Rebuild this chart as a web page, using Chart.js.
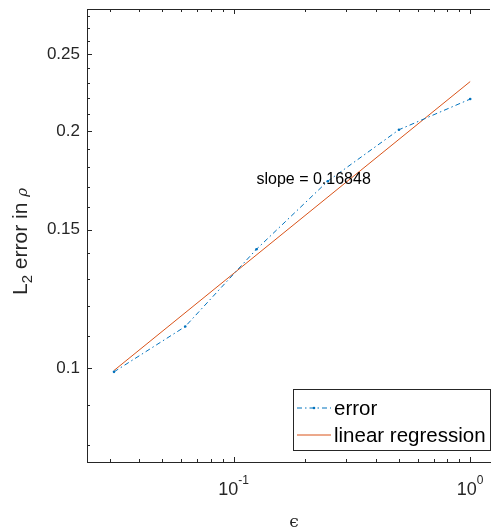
<!DOCTYPE html>
<html>
<head>
<meta charset="utf-8">
<script src="https://cdn.jsdelivr.net/npm/chart.js@4"></script>
<style>
  html, body { margin: 0; padding: 0; background: #fff; }
  #wrap { width: 494px; height: 529px; }
</style>
</head>
<body>
<div id="wrap"><canvas id="myChart" width="494" height="529"></canvas></div>
<script>
// values
const epsilon = [1/32, 1/16, 1/8, 1/4, 1/2, 1];
const errorL2 = [0.0990, 0.1130, 0.1416, 0.1727, 0.2007, 0.2195];
const regEps = [1/32, 1];
const regL2 = [0.0994, 0.2310];
const yTickVals = [0.1, 0.15, 0.2, 0.25];
const yTickLabels = ['0.1', '0.15', '0.2', '0.25'];
const yMinor = [0.08, 0.09, 0.11, 0.12, 0.13, 0.14, 0.16, 0.17, 0.18, 0.19, 0.21, 0.22, 0.23, 0.24, 0.26, 0.27, 0.28];
const xTickVals = [0.1, 1];
const xTickExp = ['-1', '0'];
const xMinor = [0.03, 0.04, 0.05, 0.06, 0.07, 0.08, 0.09, 0.2, 0.3, 0.4, 0.5, 0.6, 0.7, 0.8, 0.9];
const slopeText = 'slope = 0.16848';
const slopeAt = { x: 0.125, y: 0.1734 };

const axisColor = '#262626';
const sans = "'Liberation Sans', Arial, sans-serif";

const decor = {
    id: 'decor',
    afterDraw(chart) {
        const ctx = chart.ctx;
        const a = chart.chartArea;
        const xs = chart.scales.x, ys = chart.scales.y;
        ctx.save();
        ctx.strokeStyle = axisColor;
        ctx.lineWidth = 1;
        // top border
        ctx.beginPath();
        ctx.moveTo(a.left, Math.round(a.top) + 0.5);
        ctx.lineTo(a.right, Math.round(a.top) + 0.5);
        ctx.stroke();
        // ticks pointing inwards
        function xTick(v, len) {
            let px = Math.round(xs.getPixelForValue(v)) + 0.5;
            ctx.beginPath();
            ctx.moveTo(px, a.bottom); ctx.lineTo(px, a.bottom - len);
            ctx.moveTo(px, a.top); ctx.lineTo(px, a.top + len);
            ctx.stroke();
        }
        function yTick(v, len) {
            let py = Math.round(ys.getPixelForValue(v)) + 0.5;
            ctx.beginPath();
            ctx.moveTo(a.left, py); ctx.lineTo(a.left + len, py);
            ctx.stroke();
        }
        xMinor.forEach(v => xTick(v, 3));
        xTickVals.forEach(v => xTick(v, 5));
        yMinor.forEach(v => yTick(v, 3));
        yTickVals.forEach(v => yTick(v, 5));

        // y tick labels
        ctx.fillStyle = axisColor;
        ctx.font = '17px ' + sans;
        ctx.textAlign = 'right';
        ctx.textBaseline = 'middle';
        yTickVals.forEach((v, i) => {
            ctx.fillText(yTickLabels[i], a.left - 7, ys.getPixelForValue(v));
        });

        // x tick labels 10^n
        xTickVals.forEach((v, i) => {
            ctx.font = '18px ' + sans;
            let wBase = ctx.measureText('10').width;
            ctx.font = '12px ' + sans;
            let wExp = ctx.measureText(xTickExp[i]).width;
            let cx = xs.getPixelForValue(v);
            let x0 = cx - (wBase + wExp) / 2;
            ctx.textAlign = 'left';
            ctx.textBaseline = 'alphabetic';
            ctx.font = '18px ' + sans;
            ctx.fillText('10', x0, 495);
            ctx.font = '12px ' + sans;
            ctx.fillText(xTickExp[i], x0 + wBase, 484);
        });

        // x axis title
        ctx.font = "17px 'DejaVu Serif', serif";
        ctx.textAlign = 'center';
        ctx.textBaseline = 'alphabetic';
        ctx.fillText('\u03F5', 294, 527);

        // y axis title, rotated
        ctx.save();
        ctx.translate(27, 295);
        ctx.rotate(-Math.PI / 2);
        ctx.textAlign = 'left';
        ctx.textBaseline = 'alphabetic';
        let x = 0;
        ctx.font = '21px ' + sans;
        ctx.fillText('L', x, 0); x += ctx.measureText('L').width;
        ctx.font = '15px ' + sans;
        ctx.fillText('2', x, 5); x += ctx.measureText('2').width;
        ctx.font = '21px ' + sans;
        ctx.fillText(' error in ', x, 0); x += ctx.measureText(' error in ').width;
        ctx.font = "italic 15px 'DejaVu Serif', serif";
        ctx.fillText('\u03C1', x, 0);
        ctx.restore();

        // slope annotation
        ctx.fillStyle = '#000';
        ctx.font = '16px ' + sans;
        ctx.textAlign = 'left';
        ctx.textBaseline = 'middle';
        ctx.fillText(slopeText, xs.getPixelForValue(slopeAt.x), ys.getPixelForValue(slopeAt.y));

        // legend box
        const lx = 293.5, ly = 389.5, lw = 197, lh = 61;
        ctx.fillStyle = '#fff';
        ctx.fillRect(lx, ly, lw, lh);
        ctx.strokeStyle = axisColor;
        ctx.strokeRect(lx, ly, lw, lh);
        const rows = [408, 435];
        chart.data.datasets.forEach((ds, i) => {
            let yy = rows[i];
            ctx.strokeStyle = ds.borderColor;
            ctx.lineWidth = 1;
            ctx.setLineDash(ds.borderDash || []);
            ctx.beginPath();
            ctx.moveTo(297, yy); ctx.lineTo(331, yy);
            ctx.stroke();
            ctx.setLineDash([]);
            if (ds.pointRadius) {
                ctx.fillStyle = ds.borderColor;
                ctx.beginPath();
                ctx.arc(314, yy, ds.pointRadius, 0, Math.PI * 2);
                ctx.fill();
            }
            ctx.fillStyle = '#000';
            ctx.font = '20.5px ' + sans;
            ctx.textAlign = 'left';
            ctx.textBaseline = 'middle';
            ctx.fillText(ds.label, 334, yy + 1);
        });
        ctx.restore();
    }
};

const ctx = document.getElementById('myChart').getContext('2d');
const chart = new Chart(ctx, {
    type: 'scatter',
    data: {
        datasets: [
            {
                label: 'error',
                data: epsilon.map((e, i) => ({ x: e, y: errorL2[i] })),
                showLine: true,
                borderColor: '#0072BD',
                backgroundColor: '#0072BD',
                borderWidth: 1,
                borderDash: [5, 3, 1.5, 3],
                pointRadius: 1.3,
                pointBorderWidth: 0,
                tension: 0
            },
            {
                label: 'linear regression',
                data: regEps.map((e, i) => ({ x: e, y: regL2[i] })),
                showLine: true,
                borderColor: '#D95319',
                backgroundColor: '#D95319',
                borderWidth: 1,
                pointRadius: 0,
                tension: 0
            }
        ]
    },
    options: {
        responsive: false,
        animation: false,
        devicePixelRatio: 1,
        layout: { padding: { top: 9, left: 0, right: 0, bottom: 0 } },
        plugins: { legend: { display: false }, tooltip: { enabled: false } },
        scales: {
            x: {
                type: 'logarithmic',
                min: 0.02403,
                max: 1.2126,
                bounds: 'data',
                grid: { display: false, drawTicks: false },
                border: { display: true, color: axisColor, width: 1 },
                ticks: { display: false },
                afterFit: s => { s.height = 67; }
            },
            y: {
                type: 'logarithmic',
                min: 0.0761,
                max: 0.2855,
                bounds: 'data',
                grid: { display: false, drawTicks: false },
                border: { display: true, color: axisColor, width: 1 },
                ticks: { display: false },
                afterFit: s => { s.width = 87; }
            }
        }
    },
    plugins: [decor]
});
</script>
</body>
</html>
